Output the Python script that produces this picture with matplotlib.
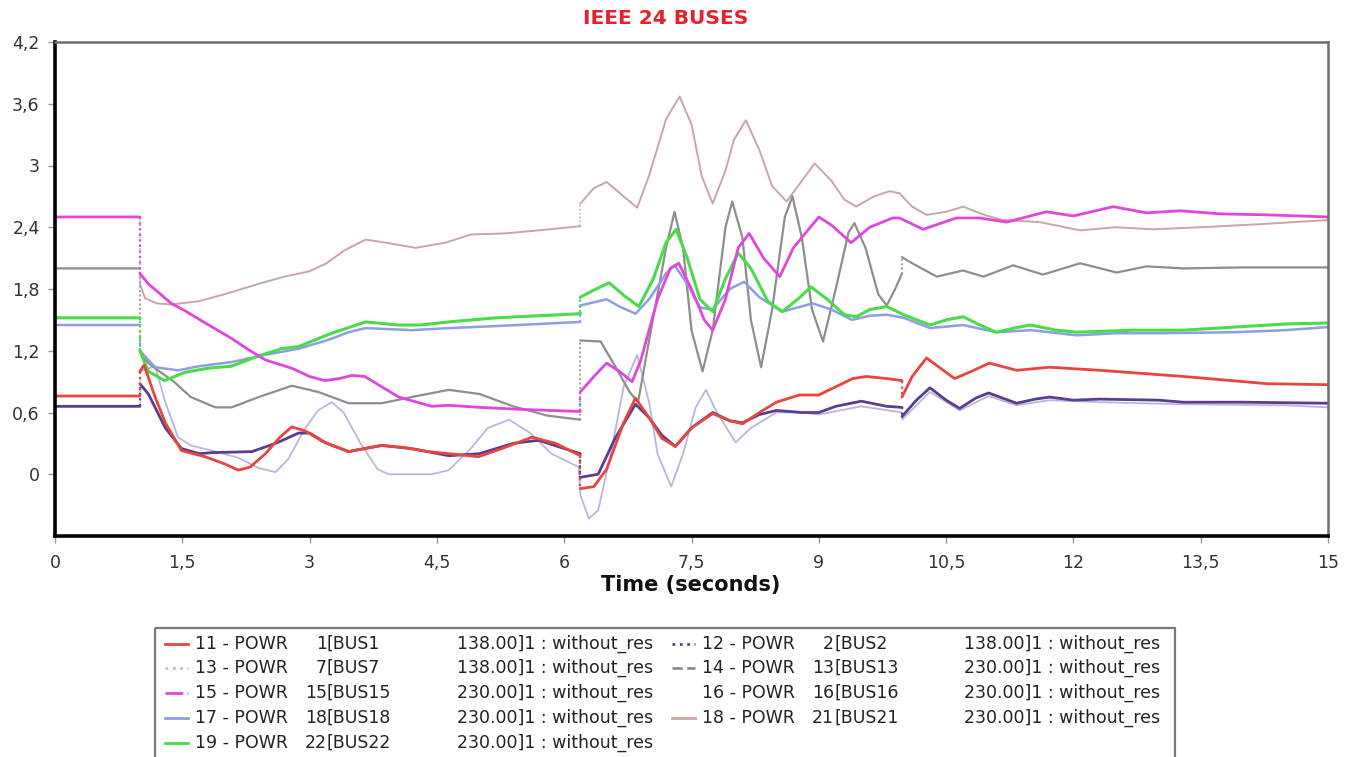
import numpy as np
import matplotlib
matplotlib.use('Agg')
import matplotlib.pyplot as plt
from matplotlib.patches import Rectangle

# power flow traces (p.u.) from the IEEE 24 bus run, time in seconds
t11 = [0, 1.0, 1.0, 1.05, 1.18, 1.3, 1.49, 1.77, 2.0, 2.16, 2.3, 2.48, 2.65, 2.79, 2.95, 3.15, 3.46, 3.65,
       3.85, 4.1, 4.4, 4.64, 4.99, 5.3, 5.62, 5.9, 6.19, 6.19, 6.35, 6.5, 6.7, 6.84, 7.0, 7.15, 7.31, 7.5,
       7.75, 7.95, 8.1, 8.3, 8.5, 8.77, 9.0, 9.2, 9.4, 9.56, 9.8, 9.98, 9.98, 10.1, 10.27, 10.45, 10.6,
       10.8, 11.01, 11.33, 11.72, 12.31, 13.3, 14.28, 15]
p11 = [0.76, 0.76, 1.0, 1.06, 0.75, 0.5, 0.23, 0.17, 0.1, 0.04, 0.07, 0.2, 0.36, 0.46, 0.42, 0.32, 0.22, 0.25,
       0.28, 0.26, 0.22, 0.2, 0.17, 0.26, 0.36, 0.3, 0.18, -0.14, -0.12, 0.05, 0.5, 0.74, 0.55, 0.35, 0.27, 0.45,
       0.59, 0.52, 0.49, 0.6, 0.7, 0.77, 0.77, 0.85, 0.93, 0.95, 0.93, 0.91, 0.75, 0.95, 1.13, 1.02, 0.93,
       1.0, 1.08, 1.01, 1.04, 1.01, 0.95, 0.88, 0.87]

t12 = [0, 1.0, 1.0, 1.1, 1.3, 1.49, 1.7, 1.85, 2.32, 2.6, 2.87, 3.0, 3.2, 3.46, 3.65, 3.85, 4.2, 4.64, 5.0,
       5.4, 5.7, 6.0, 6.19, 6.19, 6.4, 6.6, 6.84, 7.0, 7.15, 7.31, 7.5, 7.75, 7.95, 8.1, 8.3, 8.5, 8.8, 9.0,
       9.2, 9.5, 9.8, 9.98, 9.98, 10.15, 10.31, 10.5, 10.66, 10.85, 11.0, 11.33, 11.55, 11.72, 12.0, 12.31,
       13.0, 13.3, 14.0, 15]
p12 = [0.66, 0.66, 0.88, 0.78, 0.45, 0.25, 0.2, 0.21, 0.22, 0.3, 0.4, 0.4, 0.3, 0.22, 0.25, 0.28, 0.25, 0.18, 0.2,
       0.3, 0.33, 0.25, 0.2, -0.03, 0.0, 0.35, 0.68, 0.55, 0.38, 0.27, 0.45, 0.6, 0.52, 0.5, 0.58, 0.62, 0.6, 0.6,
       0.66, 0.71, 0.66, 0.65, 0.56, 0.72, 0.84, 0.72, 0.64, 0.74, 0.79, 0.69, 0.73, 0.75, 0.72, 0.73,
       0.72, 0.7, 0.7, 0.69]

t13 = [0, 1.0, 1.0, 1.18, 1.3, 1.45, 1.6, 1.85, 2.16, 2.4, 2.6, 2.75, 2.95, 3.1, 3.26, 3.4, 3.6, 3.8, 3.93,
       4.44, 4.64, 4.9, 5.1, 5.35, 5.6, 5.85, 6.17, 6.19, 6.29, 6.4, 6.55, 6.7, 6.86, 7.0, 7.1, 7.26, 7.4,
       7.55, 7.67, 7.8, 8.02, 8.2, 8.5, 8.8, 9.0, 9.5, 9.98, 9.98, 10.31, 10.66, 11.0, 11.33, 11.72, 12.31,
       13.3, 14.5, 15]
p13 = [0.66, 0.66, 1.0, 1.05, 0.7, 0.36, 0.28, 0.23, 0.16, 0.06, 0.02, 0.15, 0.45, 0.62, 0.7, 0.6, 0.3, 0.05, 0.0,
       0.0, 0.04, 0.25, 0.45, 0.53, 0.4, 0.2, 0.07, -0.2, -0.43, -0.35, 0.2, 0.85, 1.16, 0.7, 0.2, -0.12, 0.2,
       0.65, 0.82, 0.6, 0.31, 0.45, 0.6, 0.6, 0.58, 0.66, 0.6, 0.53, 0.8, 0.62, 0.76, 0.67, 0.72, 0.7,
       0.68, 0.67, 0.65]

t14 = [0, 1.0, 1.0, 1.1, 1.18, 1.4, 1.6, 1.89, 2.08, 2.4, 2.79, 3.1, 3.46, 3.85, 4.2, 4.64, 5.0, 5.4, 5.8,
       6.19, 6.19, 6.43, 6.6, 6.77, 6.87, 7.0, 7.2, 7.3, 7.4, 7.5, 7.63, 7.75, 7.9, 7.98, 8.1, 8.2, 8.32,
       8.45, 8.6, 8.69, 8.8, 8.92, 9.05, 9.2, 9.35, 9.42, 9.55, 9.7, 9.8, 9.9, 9.98, 9.98, 10.1, 10.39,
       10.7, 10.94, 11.29, 11.64, 12.08, 12.51, 12.86, 13.3, 14.0, 15]
p14 = [2.0, 2.0, 1.2, 1.08, 1.03, 0.9, 0.75, 0.65, 0.65, 0.75, 0.86, 0.8, 0.69, 0.69, 0.75, 0.82, 0.78, 0.66, 0.57,
       0.53, 1.3, 1.29, 1.05, 0.8, 0.7, 1.3, 2.2, 2.55, 2.2, 1.4, 1.0, 1.4, 2.4, 2.65, 2.3, 1.5, 1.04,
       1.6, 2.5, 2.7, 2.3, 1.6, 1.29, 1.8, 2.35, 2.44, 2.2, 1.75, 1.64, 1.8, 1.95, 2.11, 2.05, 1.92,
       1.98, 1.92, 2.03, 1.94, 2.05, 1.96, 2.02, 2.0, 2.01, 2.01]

t15 = [0, 1.0, 1.0, 1.1, 1.37, 1.55, 1.77, 2.08, 2.3, 2.48, 2.79, 3.0, 3.18, 3.35, 3.5, 3.65, 4.05, 4.44, 4.64,
       5.0, 5.5, 6.19, 6.19, 6.35, 6.5, 6.65, 6.8, 6.9, 7.1, 7.25, 7.35, 7.5, 7.65, 7.75, 7.9, 8.05, 8.18,
       8.35, 8.54, 8.7, 9.0, 9.15, 9.38, 9.6, 9.87, 9.95, 10.23, 10.62, 10.9, 11.21, 11.68, 12.0, 12.47,
       12.86, 13.26, 13.73, 14.3, 15]
p15 = [2.5, 2.5, 1.95, 1.85, 1.66, 1.58, 1.47, 1.32, 1.2, 1.11, 1.03, 0.95, 0.91, 0.93, 0.96, 0.95, 0.75, 0.66, 0.67,
       0.65, 0.63, 0.61, 0.8, 0.95, 1.08, 1.0, 0.9, 1.1, 1.7, 2.0, 2.05, 1.8, 1.5, 1.4, 1.7, 2.2, 2.34,
       2.1, 1.92, 2.2, 2.5, 2.42, 2.25, 2.4, 2.49, 2.49, 2.38, 2.49, 2.49, 2.45, 2.55, 2.51, 2.6,
       2.54, 2.56, 2.53, 2.52, 2.5]

t16 = [0, 1.0, 1.0, 3.0, 6.19, 6.19, 10.0, 15]
p16 = [1.0, 1.0, 0.8, 0.85, 0.9, 1.0, 0.95, 0.95]

t17 = [0, 1.0, 1.0, 1.18, 1.45, 1.7, 2.08, 2.48, 2.87, 3.2, 3.46, 3.66, 4.2, 4.64, 5.2, 5.7, 6.19, 6.19, 6.5,
       6.65, 6.84, 7.0, 7.2, 7.3, 7.45, 7.6, 7.75, 7.95, 8.12, 8.3, 8.57, 8.75, 8.93, 9.15, 9.39, 9.6, 9.8,
       10.0, 10.31, 10.7, 11.09, 11.5, 12.04, 12.5, 13.0, 13.89, 14.5, 15]
p17 = [1.45, 1.45, 1.2, 1.04, 1.01, 1.05, 1.09, 1.16, 1.22, 1.3, 1.38, 1.42, 1.4, 1.42, 1.44, 1.46, 1.48, 1.64, 1.7,
       1.63, 1.56, 1.7, 1.95, 2.03, 1.85, 1.62, 1.6, 1.8, 1.87, 1.72, 1.58, 1.62, 1.66, 1.6, 1.5, 1.54, 1.55,
       1.52, 1.42, 1.45, 1.38, 1.4, 1.35, 1.37, 1.37, 1.38, 1.4, 1.43]

t18 = [0, 1.0, 1.0, 1.06, 1.2, 1.37, 1.69, 2.0, 2.4, 2.7, 2.99, 3.2, 3.4, 3.66, 3.9, 4.25, 4.6, 4.9, 5.3, 5.7,
       6.19, 6.19, 6.35, 6.5, 6.7, 6.86, 7.0, 7.2, 7.36, 7.5, 7.62, 7.75, 7.9, 8.0, 8.14, 8.3, 8.45, 8.62,
       8.8, 8.95, 9.15, 9.3, 9.44, 9.65, 9.83, 9.95, 10.1, 10.27, 10.5, 10.7, 10.95, 11.17, 11.6, 12.08,
       12.5, 12.94, 13.5, 14.2, 15]
p18 = [2.5, 2.5, 1.85, 1.71, 1.66, 1.65, 1.68, 1.75, 1.85, 1.92, 1.97, 2.05, 2.17, 2.28, 2.25, 2.2, 2.25, 2.33, 2.34, 2.37,
       2.41, 2.63, 2.78, 2.84, 2.7, 2.59, 2.9, 3.45, 3.67, 3.4, 2.9, 2.63, 2.95, 3.25, 3.44, 3.15, 2.8, 2.65,
       2.85, 3.02, 2.85, 2.67, 2.6, 2.7, 2.75, 2.73, 2.6, 2.52, 2.55, 2.6, 2.52, 2.47, 2.45, 2.37,
       2.4, 2.38, 2.4, 2.43, 2.47]

t19 = [0, 1.0, 1.0, 1.1, 1.29, 1.53, 1.8, 2.08, 2.4, 2.67, 2.87, 3.26, 3.66, 4.05, 4.3, 4.64, 5.2, 5.7, 6.19,
       6.19, 6.35, 6.53, 6.7, 6.88, 7.05, 7.2, 7.32, 7.45, 7.6, 7.75, 7.9, 8.05, 8.2, 8.4, 8.57, 8.75, 8.91,
       9.1, 9.3, 9.44, 9.6, 9.8, 10.0, 10.31, 10.5, 10.7, 10.9, 11.09, 11.3, 11.49, 11.8, 12.04, 12.71,
       13.3, 13.89, 14.5, 15]
p19 = [1.52, 1.52, 1.2, 1.0, 0.91, 0.99, 1.03, 1.05, 1.15, 1.22, 1.24, 1.37, 1.48, 1.45, 1.45, 1.48, 1.52, 1.54, 1.56,
       1.72, 1.79, 1.86, 1.74, 1.63, 1.9, 2.25, 2.38, 2.1, 1.7, 1.58, 1.9, 2.15, 2.0, 1.68, 1.58, 1.7, 1.82,
       1.7, 1.55, 1.53, 1.6, 1.63, 1.55, 1.45, 1.5, 1.53, 1.45, 1.38, 1.42, 1.45, 1.4, 1.38, 1.4,
       1.4, 1.43, 1.46, 1.47]

# legend info
ids = [11, 12, 13, 14, 15, 16, 17, 18, 19]
bus_no = [1, 2, 7, 13, 15, 16, 18, 21, 22]
bus_kv = ['138.00', '138.00', '138.00', '230.00', '230.00', '230.00', '230.00', '230.00', '230.00']
case = 'without_res'

series = {11: (t11, p11), 12: (t12, p12), 13: (t13, p13), 14: (t14, p14), 15: (t15, p15),
          16: (t16, p16), 17: (t17, p17), 18: (t18, p18), 19: (t19, p19)}
colors = {11: '#e8453f', 12: '#5a3d8e', 13: '#b9b6de', 14: '#8e8e8e', 15: '#e046dc',
          16: '#ffffff', 17: '#8f9ce6', 18: '#cba5a5', 19: '#48dc48'}
widths = {11: 2.0, 12: 2.0, 13: 1.3, 14: 1.6, 15: 2.0, 16: 1.0, 17: 1.8, 18: 1.4, 19: 2.2}
styles = {11: '-', 12: ':', 13: ':', 14: '--', 15: '-.', 16: '-', 17: '-', 18: '-', 19: '-'}
order = [16, 18, 13, 14, 17, 19, 12, 11, 15]

W, H = 1346, 757
fig = plt.figure(figsize=(W / 100, H / 100), dpi=100)
ax = fig.add_axes([55 / W, 1 - 536 / H, (1328 - 55) / W, (536 - 42) / H])


def draw(ax, t, y, color, lw, z):
    t = np.asarray(t, float)
    y = np.asarray(y, float)
    jumps = np.where(np.diff(t) == 0)[0]
    # break the curve at the switching instants, the steps go in dotted
    ts = np.insert(t, jumps + 1, np.nan)
    ys = np.insert(y, jumps + 1, np.nan)
    ax.plot(ts, ys, color=color, lw=lw, solid_joinstyle='round', solid_capstyle='round', zorder=z)
    for j in jumps:
        ax.plot(t[j:j + 2], y[j:j + 2], color=color, lw=lw * 0.8, ls=(0, (1, 1.5)), zorder=z)


for z, k in enumerate(order):
    t, y = series[k]
    draw(ax, t, y, colors[k], widths[k], 1 + 0.1 * z)

ax.set_xlim(0, 15)
ax.set_ylim(-0.6, 4.2)
xt = np.arange(0, 15.01, 1.5)
yt = np.arange(0, 4.21, 0.6)
ax.set_xticks(xt)
ax.set_yticks(yt)
fmt = lambda v: ('%.1f' % v).rstrip('0').rstrip('.').replace('.', ',')
ax.set_xticklabels([fmt(v) for v in xt])
ax.set_yticklabels([fmt(v) for v in yt])
ax.tick_params(axis='x', length=5, width=1, color='#999999', labelsize=12.5, labelcolor='#333333', pad=8)
ax.tick_params(axis='y', length=5, width=1, color='#999999', labelsize=12.5, labelcolor='#333333', pad=6)
for s in ['left', 'bottom']:
    ax.spines[s].set_linewidth(2.6)
    ax.spines[s].set_color('black')
for s in ['top', 'right']:
    ax.spines[s].set_linewidth(1.8)
    ax.spines[s].set_color('#6e6e6e')

fig.text(666 / W, 1 - 18 / H, 'IEEE 24 BUSES', color='#e8202a', fontsize=14.5,
         fontweight='bold', ha='center', va='center')
fig.text(691 / W, 1 - 585 / H, 'Time (seconds)', color='#111111', fontsize=15,
         fontweight='bold', ha='center', va='center')

# legend box, laid out in pixel coordinates
lg = fig.add_axes([0, 0, 1, 1])
lg.set_xlim(0, W)
lg.set_ylim(H, 0)
lg.axis('off')
lg.add_patch(Rectangle((155, 628), 1175 - 155, 140, fill=False, ec='#7a7a7a', lw=1.6))
row_y = [644, 668, 693, 718, 743]
for i, k in enumerate(ids):
    col, row = i % 2, i // 2
    dx = col * 507
    y = row_y[row]
    lg.plot([165 + dx, 188 + dx], [y, y], color=colors[k], lw=2, ls=styles[k])
    lg.text(195 + dx, y, '%d - POWR' % k, fontsize=12.5, color='#222222', va='center', ha='left')
    lg.text(327 + dx, y, '%d' % bus_no[i], fontsize=12.5, color='#222222', va='center', ha='right')
    lg.text(327 + dx, y, '[BUS%d' % bus_no[i], fontsize=12.5, color='#222222', va='center', ha='left')
    lg.text(653 + dx, y, '%s]1 : %s' % (bus_kv[i], case), fontsize=12.5, color='#222222',
            va='center', ha='right')

fig.savefig('out.png', dpi=100)
